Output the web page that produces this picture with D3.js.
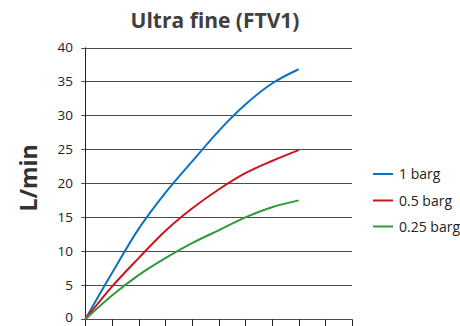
<!DOCTYPE html>
<html><head><meta charset="utf-8">
<script src="https://cdn.jsdelivr.net/npm/d3@7"></script>
<style>body{margin:0;background:#fff;}svg{display:block;}</style>
</head><body>
<script>
const xValues = [0, 1, 2, 3, 4, 5, 6, 7, 8];
const bar1 = [0, 6.8, 13.3, 18.6, 23.2, 27.7, 31.6, 34.7, 36.8];
const bar05 = [0, 4.8, 9.0, 13.0, 16.3, 19.1, 21.5, 23.3, 24.9];
const bar025 = [0, 3.5, 6.5, 9.0, 11.2, 13.1, 15.0, 16.5, 17.5];
const seriesNames = ["1 barg", "0.5 barg", "0.25 barg"];
const seriesColors = ["#0b72c2", "#c8151e", "#2e9a3c"];
const yTicks = [0, 5, 10, 15, 20, 25, 30, 35, 40];
const xTicks = [0, 1, 2, 3, 4, 5, 6, 7, 8, 9, 10];
const title = "Ultra fine (FTV1)";
const yLabel = "L/min";

const W = 460, H = 326;
const svg = d3.select("body").append("svg").attr("width", W).attr("height", H);
const x = d3.scaleLinear().domain([0, 10]).range([85.3, 352]);
const y = d3.scaleLinear().domain([0, 40]).range([319.3, 47.5]);

const g = svg.append("g");
g.selectAll("line.grid").data(yTicks).enter().append("line")
  .attr("x1", x(0) - 4).attr("x2", x(10))
  .attr("y1", d => Math.round(y(d)) + 0.5).attr("y2", d => Math.round(y(d)) + 0.5)
  .attr("stroke", "#4a4a4a").attr("stroke-width", 1);
g.append("line").attr("x1", Math.round(x(0)) + 0.5).attr("x2", Math.round(x(0)) + 0.5)
  .attr("y1", y(40)).attr("y2", y(0) + 6).attr("stroke", "#222").attr("stroke-width", 1);
g.selectAll("line.xt").data(xTicks).enter().append("line")
  .attr("x1", d => Math.round(x(d)) + 0.5).attr("x2", d => Math.round(x(d)) + 0.5)
  .attr("y1", y(0)).attr("y2", y(0) + 7)
  .attr("stroke", "#222").attr("stroke-width", 1);
g.selectAll("text.yl").data(yTicks).enter().append("text")
  .attr("x", 73).attr("y", d => Math.min(y(d) + 4.5, 321.5))
  .attr("text-anchor", "end")
  .attr("font-family", "Open Sans, sans-serif").attr("font-size", 13.5)
  .attr("fill", "#222").text(d => d);

const allSeries = [bar1, bar05, bar025];
const line = d3.line().x((d, i) => x(xValues[i])).y(d => y(d)).curve(d3.curveMonotoneX);
svg.selectAll("path.s").data(allSeries).enter().append("path")
  .attr("d", d => line(d)).attr("fill", "none")
  .attr("stroke", (d, i) => seriesColors[i]).attr("stroke-width", 2);

svg.append("text").attr("x", 215).attr("y", 28).attr("text-anchor", "middle")
  .attr("font-family", "Open Sans, sans-serif").attr("font-weight", "bold")
  .attr("font-size", 21).attr("fill", "#404040").text(title);

svg.append("text").attr("transform", "translate(37,178) rotate(-90)")
  .attr("text-anchor", "middle")
  .attr("font-family", "Open Sans, sans-serif").attr("font-weight", "bold")
  .attr("font-size", 23).attr("fill", "#333").text(yLabel);

const lg = svg.append("g");
const ly = [174, 200.5, 226.5];
seriesNames.forEach((n, i) => {
  lg.append("line").attr("x1", 373).attr("x2", 393).attr("y1", ly[i]).attr("y2", ly[i])
    .attr("stroke", seriesColors[i]).attr("stroke-width", 2);
  lg.append("text").attr("x", 399).attr("y", ly[i] + 5)
    .attr("font-family", "Open Sans, sans-serif").attr("font-size", 14)
    .attr("fill", "#222").text(n);
});
</script>
</body></html>
